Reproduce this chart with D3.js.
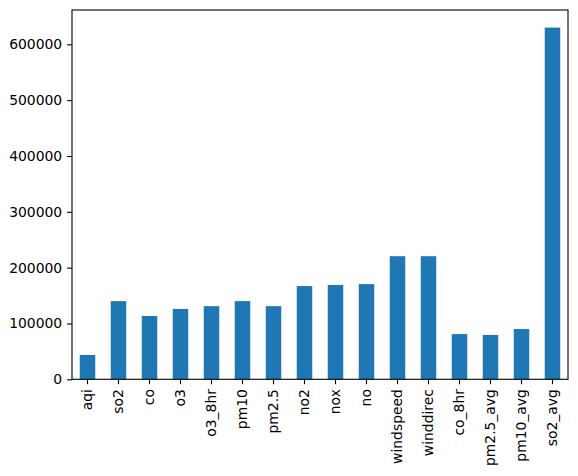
<!DOCTYPE html>
<html><head><meta charset="utf-8">
<script src="https://cdn.jsdelivr.net/npm/d3@7"></script>
<style>body{margin:0;background:#fff;} svg{display:block;}</style>
</head><body>
<script>
const categories = ["aqi","so2","co","o3","o3_8hr","pm10","pm2.5","no2","nox","no","windspeed","winddirec","co_8hr","pm2.5_avg","pm10_avg","so2_avg"];
const values = [43500,140000,113400,126000,131000,140000,131000,167000,169000,170500,220500,220500,81000,79500,90000,630000];
const yTicks = [0,100000,200000,300000,400000,500000,600000];

const W = 578, H = 476;
const m = {left:72, top:10, right:568, bottom:379.3};
const svg = d3.select("body").append("svg").attr("width",W).attr("height",H);

const x = d3.scaleBand().domain(categories).range([m.left,m.right]).paddingInner(0.5).paddingOuter(0.25);
const y = d3.scaleLinear().domain([0, d3.max(values)*1.05]).range([m.bottom,m.top]);

svg.append("g").selectAll("rect").data(categories).join("rect")
  .attr("x",d=>x(d)).attr("width",x.bandwidth())
  .attr("y",(d,i)=>y(values[i])).attr("height",(d,i)=>y(0)-y(values[i]))
  .attr("fill","#1f77b4");

const font = "DejaVu Sans, sans-serif";
const yAxis = svg.append("g").attr("transform",`translate(${m.left},0)`)
  .call(d3.axisLeft(y).tickValues(yTicks).tickFormat(d3.format("d")).tickSize(4.9).tickPadding(4.9));
yAxis.select(".domain").remove();
yAxis.selectAll("text").attr("font-family",font).attr("font-size","13.9px").attr("fill","#000");
yAxis.selectAll("line").attr("stroke","#000").attr("stroke-width",1.1);

const xAxis = svg.append("g").attr("transform",`translate(0,${m.bottom})`)
  .call(d3.axisBottom(x).tickSize(4.9).tickPadding(4.9));
xAxis.select(".domain").remove();
xAxis.selectAll("line").attr("stroke","#000").attr("stroke-width",1.1);
xAxis.selectAll("text").attr("font-family",font).attr("font-size","13.9px").attr("fill","#000")
  .attr("transform","rotate(-90)").attr("text-anchor","end")
  .attr("x",-9.8).attr("y",0).attr("dy","0.35em");

svg.append("rect").attr("x",m.left).attr("y",m.top).attr("width",m.right-m.left).attr("height",m.bottom-m.top)
  .attr("fill","none").attr("stroke","#000").attr("stroke-width",1.1);
</script>
</body></html>
